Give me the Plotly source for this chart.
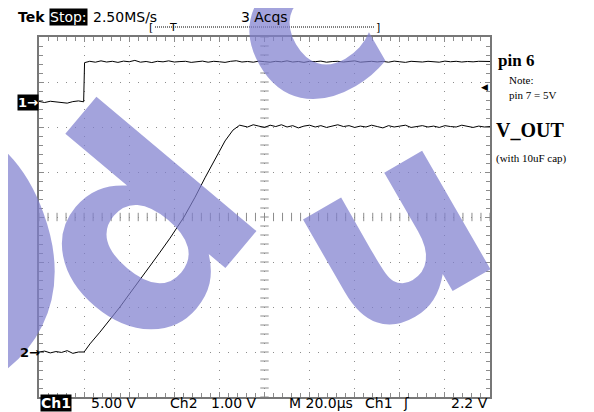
import plotly.graph_objects as go

# time base 20 us/div, ch1 5 V/div, ch2 1 V/div
ch1_t = [0, 2.5, 5, 7.5, 10, 12.5, 15, 17.5, 19.8, 20.2, 22.5, 25, 27.5, 30, 32.5, 35, 37.5, 40,
         42.5, 45, 47.5, 50, 52.5, 55, 57.5, 60, 62.5, 65, 67.5, 70, 72.5, 75, 77.5, 80, 82.5,
         85, 87.5, 90, 92.5, 95, 97.5, 100, 102.5, 105, 107.5, 110, 112.5, 115, 117.5, 120,
         122.5, 125, 127.5, 130, 132.5, 135, 137.5, 140, 142.5, 145, 147.5, 150, 152.5, 155,
         157.5, 160, 162.5, 165, 167.5, 170, 172.5, 175, 177.5, 180, 182.5, 185, 187.5, 190,
         192.5, 195, 197.5, 200]
ch1_v = [0.05, -0.08, 0.06, 0.0, -0.12, -0.15, 0.02, 0.1, 0.0, 4.35, 4.5, 4.4, 4.55, 4.42,
         4.5, 4.38, 4.52, 4.45, 4.6, 4.4, 4.48, 4.36, 4.5, 4.44, 4.55, 4.42, 4.47, 4.5, 4.38,
         4.46, 4.52, 4.4, 4.5, 4.45, 4.38, 4.5, 4.56, 4.42, 4.48, 4.4, 4.52, 4.46, 4.4, 4.5,
         4.44, 4.55, 4.42, 4.48, 4.38, 4.5, 4.46, 4.52, 4.4, 4.47, 4.5, 4.42, 4.48, 4.55, 4.4,
         4.46, 4.5, 4.43, 4.49, 4.4, 4.52, 4.45, 4.38, 4.5, 4.46, 4.42, 4.5, 4.47, 4.4, 4.52,
         4.45, 4.5, 4.42, 4.48, 4.44, 4.5, 4.46, 4.48]

ch2_t = [0, 2.5, 5, 7.5, 10, 12.5, 15, 17.5, 20, 22.6, 27, 31.5, 35.9, 40.4, 44.8, 49.2,
         53.7, 58.1, 64.3, 69.2, 73.6, 78, 82.5, 86, 89, 92.5, 95, 97.5, 100, 102.5, 105,
         107.5, 110, 112.5, 115, 117.5, 120, 122.5, 125, 127.5, 130, 132.5, 135, 137.5, 140,
         142.5, 145, 147.5, 150, 152.5, 155, 157.5, 160, 162.5, 165, 167.5, 170, 172.5, 175,
         177.5, 180, 182.5, 185, 187.5, 190, 192.5, 195, 197.5, 200]
ch2_v = [0.0, 0.02, -0.02, 0.01, -0.01, 0.03, -0.03, 0.0, 0.0, 0.18, 0.44, 0.71, 1.0, 1.31,
         1.6, 1.91, 2.22, 2.53, 3.0, 3.44, 3.87, 4.29, 4.69, 4.93, 5.04, 5.0, 5.05, 5.02, 4.99,
         5.04, 5.01, 5.05, 5.0, 5.03, 4.98, 5.02, 5.04, 5.0, 5.03, 4.99, 5.02, 5.05, 5.01,
         5.03, 4.99, 5.02, 5.0, 5.04, 5.01, 4.98, 5.03, 5.0, 5.02, 5.04, 4.99, 5.01, 5.03,
         5.0, 5.02, 4.99, 5.03, 5.01, 5.0, 5.04, 5.01, 4.99, 5.02, 5.0, 5.01]

ch1_scale, ch1_pos = 5.0, 2.56    # V/div, ground position in divisions
ch2_scale, ch2_pos = 1.0, -3.0

# page body has an 8px margin, so the figure is drawn 8px smaller
W, H, PAD = 594, 412, 8
L, R, T, B = 39, 490, 37, 397


def px(x):
    return (x - L) / (R - L)


def py(y):
    return (B - y) / (B - T)


grid = '#8c8c8c'
wm = 'rgba(128,128,206,0.72)'
fig = go.Figure()

# centre cross tick marks
fig.add_trace(go.Scatter(x=[i * 4 for i in range(51)], y=[0] * 51, mode='markers',
                         marker=dict(symbol='line-ns', size=6, line=dict(width=1, color=grid)),
                         hoverinfo='skip', showlegend=False))
fig.add_trace(go.Scatter(x=[100] * 41, y=[-4 + i * 0.2 for i in range(41)], mode='markers',
                         marker=dict(symbol='line-ew', size=6, line=dict(width=1, color=grid)),
                         hoverinfo='skip', showlegend=False))

fig.add_trace(go.Scatter(x=ch1_t, y=[v / ch1_scale + ch1_pos for v in ch1_v], mode='lines',
                         line=dict(color='black', width=1), showlegend=False))
fig.add_trace(go.Scatter(x=ch2_t, y=[v / ch2_scale + ch2_pos for v in ch2_v], mode='lines',
                         line=dict(color='black', width=1), showlegend=False))

ann = []


def text(x, y, s, size=15, color='black', family='DejaVu Sans', bg=None, xanchor='left',
         yanchor='middle', **kw):
    ann.append(dict(x=px(x), y=py(y), xref='paper', yref='paper', text=s, showarrow=False,
                    xanchor=xanchor, yanchor=yanchor, bgcolor=bg,
                    font=dict(size=size, color=color, family=family), borderpad=0, **kw))


# watermark letters
text(-110, 230, '<b>o</b>', size=500, color=wm, xanchor='center', textangle=-20)
text(135, 228, '<b>d</b>', size=275, color=wm, xanchor='center', textangle=-50)
text(388, 228, '<b>u</b>', size=250, color=wm, xanchor='center', textangle=-30)
text(302, 22, '<b>c</b>', size=230, color=wm, xanchor='center', textangle=-30)

text(17, 8, '<b>Tek</b>', size=14, yanchor='top')
text(49, 8, 'Stop:', size=14, color='white', bg='black', yanchor='top')
text(92, 8, '2.50MS/s', size=14, yanchor='top')
text(240, 8, '3 Acqs', size=14, yanchor='top')
text(148, 27, '[', size=11)
text(173, 27, 'T', size=11, xanchor='center')
text(375, 27, ']', size=11)

text(40, 403, '<b>Ch1</b>', size=14, color='white', bg='black')
text(90, 403, '5.00 V', size=14)
text(169, 403, 'Ch2', size=14)
text(210, 403, '1.00 V', size=14)
text(288, 403, 'M 20.0µs', size=14)
text(364, 403, 'Ch1', size=14)
text(402, 403, 'ʃ', size=14)
text(450, 403, '2.2 V', size=14)

text(17, 102, '<b>1→</b>', size=13, color='white', bg='black')
text(19, 352, '<b>2→</b>', size=13)
text(480, 87, '◀', size=9)

text(497, 60, '<b>pin 6</b>', size=17, family='Liberation Serif')
text(508, 80, 'Note:', size=11, family='Liberation Serif')
text(508, 95, 'pin 7 = 5V', size=11, family='Liberation Serif')
text(495, 130, '<b>V_OUT</b>', size=20, family='Liberation Serif')
text(495, 158, '(with 10uF cap)', size=11, family='Liberation Serif')

fig.update_layout(
    width=W - PAD, height=H - PAD,
    margin=dict(l=L - PAD, r=W - R, t=T - PAD, b=H - B),
    paper_bgcolor='white', plot_bgcolor='white', annotations=ann,
    shapes=[dict(type='line', xref='paper', yref='paper', x0=px(155), x1=px(374),
                 y0=py(27), y1=py(27), line=dict(color='black', width=1, dash='1px,1px'))],
    xaxis=dict(range=[0, 200], dtick=20, showticklabels=False, showgrid=True, gridcolor=grid,
               griddash='1px,8px', zeroline=False, showline=True, linecolor='#777', linewidth=2,
               mirror='allticks', ticks='inside', ticklen=5, tickcolor=grid,
               minor=dict(dtick=4, ticks='inside', ticklen=4, tickcolor=grid, showgrid=False)),
    yaxis=dict(range=[-4, 4], dtick=1, showticklabels=False, showgrid=True, gridcolor=grid,
               griddash='1px,8px', zeroline=False, showline=True, linecolor='#777', linewidth=2,
               mirror='allticks', ticks='inside', ticklen=5, tickcolor=grid,
               minor=dict(dtick=0.2, ticks='inside', ticklen=4, tickcolor=grid, showgrid=False)),
)

fig.write_html('out.html')
